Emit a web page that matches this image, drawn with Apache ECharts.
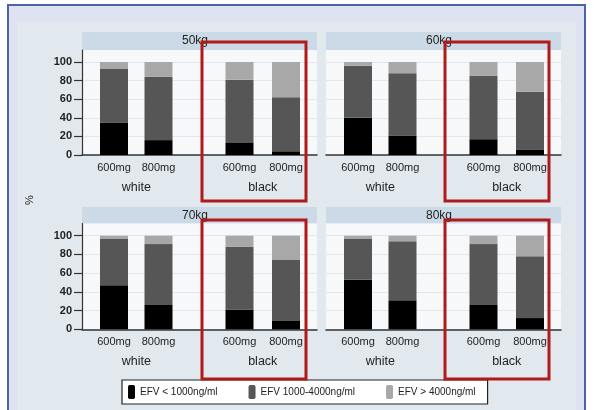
<!DOCTYPE html>
<html><head><meta charset="utf-8">
<script src="https://cdn.jsdelivr.net/npm/echarts@6/dist/echarts.min.js"></script>
<style>html,body{margin:0;padding:0;background:#fff}#c{width:594px;height:410px}</style>
</head><body><div id="c"></div>
<script>
// ---- data ----
const panels = ['50kg', '60kg', '70kg', '80kg'];
const races = ['white', 'black'];
const doses = ['600mg', '800mg'];
const seriesNames = ['EFV < 1000ng/ml', 'EFV 1000-4000ng/ml', 'EFV > 4000ng/ml'];
// per panel: [white600, white800, black600, black800]
const low  = [[35, 16, 13, 4], [40, 21, 17, 6], [47, 26, 21, 9], [53, 31, 26, 12]];
const mid  = [[58, 68, 68, 58], [56, 67, 68, 62], [50, 65, 67, 65], [44, 63, 65, 66]];
const high = [[7, 16, 19, 38], [4, 12, 15, 32], [3, 9, 12, 26], [3, 6, 9, 22]];
const yTicks = [0, 20, 40, 60, 80, 100];

// ---- layout ----
const colors = ['#000000', '#565656', '#a8a8a8'];
const font = 'Liberation Sans, Arial, sans-serif';
const PW = 235;
const layout = [
  {L: 82,  bottom: 155,   h: 93,   top: 50,  hdr: 32},
  {L: 326, bottom: 155,   h: 93,   top: 50,  hdr: 32},
  {L: 82,  bottom: 329.3, h: 93.6, top: 223.5, hdr: 207},
  {L: 326, bottom: 329.3, h: 93.6, top: 223.5, hdr: 207}
];
const segs = [low, mid, high];

const grid = [], xAxis = [], yAxis = [], series = [], graphic = [];

// frame backgrounds
graphic.push({type: 'rect', z: -100, shape: {x: 8, y: 5, width: 577, height: 410},
  style: {fill: '#dfe2f0', stroke: '#4b64a8', lineWidth: 2}});
graphic.push({type: 'rect', z: -99, shape: {x: 17, y: 21, width: 559, height: 395},
  style: {fill: '#e2e9ee'}});
graphic.push({type: 'text', z: 10, x: 30, y: 200, rotation: Math.PI / 2,
  style: {text: '%', font: '11px ' + font, fill: '#222', align: 'center', verticalAlign: 'middle'}});

layout.forEach((P, p) => {
  const isLeft = p % 2 === 0;
  const base = grid.length;
  // background grid
  grid.push({left: P.L, top: P.top, width: PW, height: P.bottom - P.top, show: true,
    backgroundColor: '#f6f8f9', borderWidth: 0});
  xAxis.push({gridIndex: base, type: 'value', show: false});
  yAxis.push({gridIndex: base, type: 'value', min: 0, max: 1, show: isLeft,
    axisLine: {show: true, lineStyle: {color: '#333', width: 1.2}},
    axisTick: {show: false}, axisLabel: {show: false}, splitLine: {show: false}});
  // main grid with value axis
  grid.push({left: P.L, top: P.bottom - P.h, width: PW, height: P.h});
  xAxis.push({gridIndex: base + 1, type: 'value', min: 0, max: 1,
    axisLine: {show: true, lineStyle: {color: '#333', width: 1.5}},
    axisTick: {show: false}, axisLabel: {show: false}, splitLine: {show: false}});
  yAxis.push({gridIndex: base + 1, type: 'value', min: 0, max: 100, interval: 20,
    axisLine: {show: false},
    axisTick: {show: isLeft, length: 8, lineStyle: {color: '#333', width: 1.2}},
    axisLabel: {show: isLeft, margin: 10, fontSize: 11, fontWeight: 'bold', color: '#222', fontFamily: font,
      formatter: v => yTicks.includes(v) ? String(v) : ''},
    splitLine: {show: true, lineStyle: {color: '#e4e7ea', width: 1}}});
  // group grids
  const groupLayout = [{off: 9.75, w: 89}, {off: 134.25, w: 93}];
  races.forEach((race, g) => {
    const gi = grid.length;
    grid.push({left: P.L + groupLayout[g].off, top: P.bottom - P.h, width: groupLayout[g].w, height: P.h});
    xAxis.push({gridIndex: gi, type: 'category', data: doses,
      axisLine: {show: false}, axisTick: {show: false},
      axisLabel: {margin: 7, fontSize: 11, color: '#222', fontFamily: font},
      name: race, nameLocation: 'middle', nameGap: 26,
      nameTextStyle: {fontSize: 12.5, color: '#222', fontFamily: font}});
    yAxis.push({gridIndex: gi, type: 'value', min: 0, max: 100, show: false});
    segs.forEach((arr, s) => {
      series.push({type: 'bar', name: seriesNames[s], xAxisIndex: gi, yAxisIndex: gi,
        stack: 'p' + p + 'g' + g, barWidth: 28, itemStyle: {color: colors[s]},
        data: [arr[p][g * 2], arr[p][g * 2 + 1]], animation: false});
    });
  });
  // header strip
  graphic.push({type: 'rect', z: -50, shape: {x: P.L, y: P.hdr, width: PW, height: P.top - P.hdr},
    style: {fill: '#cbdae6'}});
  graphic.push({type: 'text', z: 5, x: P.L + 113, y: P.hdr + (P.top - P.hdr) / 2,
    style: {text: panels[p], font: '12px ' + font, fill: '#222', align: 'center', verticalAlign: 'middle'}});
});

// red highlight boxes
[[202, 42], [445, 42], [202, 220], [445, 220]].forEach(([x, y]) => {
  graphic.push({type: 'rect', z: 100, shape: {x: x, y: y, width: 104, height: 159},
    style: {fill: 'none', stroke: '#b01a1a', lineWidth: 3}});
});

const chart = echarts.init(document.getElementById('c'), null, {renderer: 'canvas'});
chart.setOption({
  animation: false,
  backgroundColor: '#ffffff',
  grid, xAxis, yAxis, series, graphic,
  legend: {data: seriesNames, left: 122, top: 380, itemWidth: 7, itemHeight: 14,
    itemGap: 31, itemTextGap: 8, padding: [5, 12, 5, 6],
    borderColor: '#222', borderWidth: 1.2, backgroundColor: '#ffffff',
    textStyle: {fontSize: 10, color: '#222', fontFamily: font}, selectedMode: false}
});
</script></body></html>
